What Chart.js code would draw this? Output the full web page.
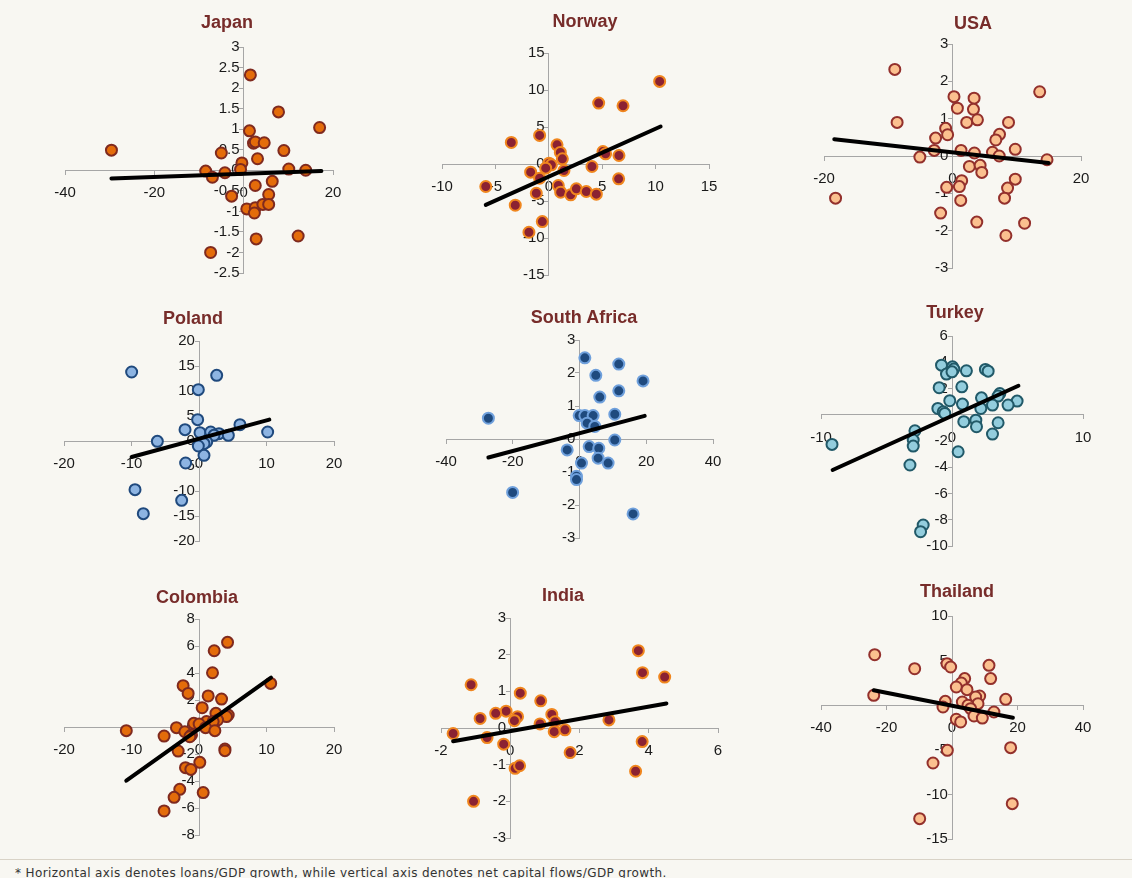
<!DOCTYPE html>
<html>
<head>
<meta charset="utf-8">
<script src="https://cdn.jsdelivr.net/npm/chart.js@4.4.1/dist/chart.umd.min.js"></script>
<style>
  body { margin: 0; background: #f8f7f2; }
  #wrap { position: relative; width: 1132px; height: 878px; overflow: hidden; background: #f8f7f2; }
  #wrap canvas { position: absolute; }
  .ttl { position: absolute; font: bold 18px "Liberation Sans", Arial, sans-serif; color: #772c2a;
         transform: translate(-50%, -50%); white-space: nowrap; }
  #rule { position: absolute; left: 0; top: 859px; width: 1132px; height: 1px; background: #d9d3c7; }
  #note { position: absolute; left: 15px; top: 866px; font: 12px "DejaVu Sans", sans-serif; letter-spacing: 0.4px;
          color: #333; white-space: nowrap; }
</style>
</head>
<body>
<div id="wrap">
  <div id="rule"></div>
  <div id="note">* Horizontal axis denotes loans/GDP growth, while vertical axis denotes net capital flows/GDP growth.</div>
</div>
<script>
// values (loans/GDP growth vs net capital flows/GDP growth)
var japanX = [-29.6, 1.5, 7.8, 17.0, 1.3, 2.2, 2.6, 4.6, 9.0, -5.0, 3.1, -0.4, -0.7, 10.1, 13.9, -8.5, -7.0, -4.2, 6.4, 2.6, 5.6, -2.7, 0.7, 2.6, 2.4, 4.3, 5.6, 2.8, 12.2, -7.4];
var japanY = [0.49, 2.32, 1.42, 1.04, 0.96, 0.66, 0.69, 0.67, 0.48, 0.42, 0.28, 0.18, 0.02, 0.03, 0.0, -0.02, -0.17, -0.06, -0.27, -0.37, -0.59, -0.63, -0.94, -0.91, -1.04, -0.83, -0.83, -1.67, -1.60, -2.0];
var japanTrendX = [-29.6, 17.4];
var japanTrendY = [-0.20, -0.02];

var norwayX = [10.38, 4.67, 6.95, -0.86, -3.51, 0.77, 1.08, 1.27, 5.07, 5.32, 6.57, 0.02, 0.24, -0.29, 4.04, -1.70, 1.42, -0.86, 6.54, -5.9, 0.89, 1.11, -1.17, 2.05, 2.58, 3.51, 4.45, -3.14, -0.61, -1.86];
var norwayY = [11.16, 8.23, 7.87, 3.86, 2.91, 2.59, 1.56, 0.70, 1.69, 1.38, 1.15, 0.11, -0.11, -0.56, -0.34, -1.10, -0.88, -1.92, -2.01, -3.04, -2.91, -3.81, -3.95, -4.17, -3.36, -3.72, -4.08, -5.57, -7.78, -9.22];
var norwayTrendX = [-5.9, 10.47];
var norwayTrendY = [-5.53, 5.07];

var usaX = [-8.98, 13.57, 0.23, 3.36, 0.76, 3.26, -8.62, 2.21, 3.88, 8.72, -1.07, -0.76, -2.63, 7.32, 6.74, -2.84, 1.33, 3.41, 6.22, 7.27, 9.77, -5.08, 14.71, 2.63, 4.30, 4.56, 1.43, 1.07, -0.91, 9.77, 8.57, 8.10, -18.2, 1.28, -1.85, 3.78, 11.22, 8.31];
var usaY = [2.32, 1.72, 1.59, 1.55, 1.28, 1.25, 0.90, 0.90, 0.97, 0.90, 0.74, 0.57, 0.48, 0.58, 0.43, 0.15, 0.15, 0.08, 0.10, 0.0, 0.18, -0.03, -0.10, -0.28, -0.25, -0.44, -0.66, -0.82, -0.84, -0.62, -0.86, -1.13, -1.13, -1.19, -1.53, -1.77, -1.80, -2.13];
var usaTrendX = [-18.4, 14.97];
var usaTrendY = [0.45, -0.19];

var polandX = [-9.98, 2.62, -0.1, -0.2, -2.07, 6.07, 10.17, 0.15, 1.73, 2.96, 2.22, 4.35, -6.17, 1.14, 0.74, -0.1, 0.74, -1.98, -9.48, -2.57, -8.25];
var polandY = [13.8, 13.13, 10.27, 4.27, 2.27, 3.27, 1.80, 1.67, 1.80, 1.47, 1.13, 1.13, -0.07, -0.2, -0.53, -1.0, -2.87, -4.4, -9.73, -11.87, -14.53];
var polandTrendX = [-9.98, 10.42];
var polandTrendY = [-3.2, 4.27];

var safricaX = [1.6, 11.77, 4.89, 19.04, 11.77, 6.08, -27.3, -0.1, 1.6, 4.09, 10.57, 2.29, 4.59, 10.57, -3.69, 2.89, 5.78, 5.58, 0.6, 8.57, -0.9, -0.9, -20.04, 16.05];
var safricaY = [2.46, 2.27, 1.93, 1.76, 1.46, 1.27, 0.63, 0.71, 0.71, 0.71, 0.75, 0.48, 0.38, -0.03, -0.33, -0.23, -0.28, -0.58, -0.73, -0.73, -1.13, -1.23, -1.62, -2.27];
var safricaTrendX = [-27.3, 19.54];
var safricaTrendY = [-0.56, 0.70];

var turkeyX = [-0.8, 0.04, 0.14, -0.42, 0, 1.1, 2.55, 2.76, -0.98, 0.75, -0.17, 2.25, 3.65, 3.52, 4.97, 4.28, 0.8, 3.09, 2.2, -1.08, -0.67, -0.55, 0.9, 1.82, 1.87, 3.52, 3.09, -2.83, -2.96, -2.96, -9.16, 0.47, -3.21, -2.2, -2.4];
var turkeyY = [3.78, 3.65, 3.48, 3.10, 3.27, 3.35, 3.45, 3.32, 2.06, 2.13, 1.07, 1.29, 1.62, 1.42, 1.04, 0.74, 0.81, 0.74, 0.48, 0.48, 0.23, 0.1, -0.53, -0.41, -0.91, -0.61, -1.47, -1.22, -1.93, -2.39, -2.26, -2.82, -3.83, -8.4, -8.91];
var turkeyTrendX = [-9.11, 5.07];
var turkeyTrendY = [-4.21, 2.21];

var colombiaX = [4.23, 2.25, 2.0, -2.35, -1.61, 10.62, 1.36, 3.34, 0.47, 2.5, 4.33, 4.08, 2.75, 1.11, -0.77, 0.02, 2.1, -3.34, 0.97, 2.35, -10.77, -2.1, -1.11, -1.36, -5.17, 3.84, 3.84, -3.09, 0.12, -2.0, -1.21, -2.85, -3.69, 0.62, -5.17];
var colombiaY = [6.27, 5.65, 4.02, 3.06, 2.49, 3.23, 2.30, 2.07, 1.43, 1.01, 0.89, 0.77, 0.52, 0.40, 0.27, 0.22, 0.40, -0.05, -0.05, -0.27, -0.27, -0.35, -0.59, -0.72, -0.67, -1.63, -1.75, -1.78, -2.62, -3.01, -3.14, -4.62, -5.21, -4.86, -6.22];
var colombiaTrendX = [-10.77, 10.67];
var colombiaTrendY = [-3.98, 3.65];

var indiaX = [3.70, 3.82, 4.46, -1.13, 0.29, 0.88, -0.12, -0.42, 1.2, -0.87, 0.21, 0.12, 2.85, 0.86, 1.29, -1.65, 1.27, 1.58, -0.67, -0.19, 3.81, 1.73, 0.14, 0.27, 3.62, -1.06];
var indiaY = [2.11, 1.51, 1.39, 1.18, 0.95, 0.74, 0.46, 0.40, 0.37, 0.26, 0.31, 0.2, 0.22, 0.11, 0.17, -0.15, -0.10, -0.05, -0.26, -0.44, -0.37, -0.67, -1.10, -1.03, -1.18, -2.0];
var indiaTrendX = [-1.65, 4.51];
var indiaTrendY = [-0.36, 0.67];

var thailandX = [-23.6, -1.53, -0.41, -11.4, 11.3, 11.8, 3.87, 2.85, 1.32, 4.58, 8.45, 7.23, 16.4, -23.9, -2.04, 3.16, 7.94, 4.89, -2.75, 5.7, 12.8, 6.72, 9.26, 1.32, 2.65, 17.9, -1.42, -5.8, 18.4, -9.87];
var thailandY = [5.66, 4.66, 4.28, 4.09, 4.47, 2.98, 2.98, 2.49, 2.04, 1.74, 1.03, 0.92, 0.66, 1.11, 0.43, 0.36, 0.17, -0.01, -0.20, -0.39, -0.76, -1.21, -1.44, -1.58, -1.88, -4.76, -5.06, -6.48, -11.04, -12.72];
var thailandTrendX = [-23.9, 18.6];
var thailandTrendY = [1.67, -1.40];

// axis ranges as [min, max, step]
var japanXAxis = [-40, 20, 20],    japanYAxis = [-2.5, 3, 0.5];
var norwayXAxis = [-10, 15, 5],    norwayYAxis = [-15, 15, 5];
var usaXAxis = [-20, 20, 20],      usaYAxis = [-3, 3, 1];
var polandXAxis = [-20, 20, 10],   polandYAxis = [-20, 20, 5];
var safricaXAxis = [-40, 40, 20],  safricaYAxis = [-3, 3, 1];
var turkeyXAxis = [-10, 10, 10],   turkeyYAxis = [-10, 6, 2];
var colombiaXAxis = [-20, 20, 10], colombiaYAxis = [-8, 8, 2];
var indiaXAxis = [-2, 6, 2],       indiaYAxis = [-3, 3, 1];
var thailandXAxis = [-40, 40, 20], thailandYAxis = [-15, 10, 5];

// marker styles
var orangeDot = { fill: '#e46c0a', edge: '#7f2a1f' };
var crimsonDot = { fill: '#8b2232', edge: '#f0861e' };
var peachDot = { fill: '#fbc08f', edge: '#93302c' };
var blueDot = { fill: '#8db4e2', edge: '#1f497d' };
var navyDot = { fill: '#1f4a7e', edge: '#6fa0dc' };
var tealDot = { fill: '#93cddd', edge: '#215968' };

// plot area [left, top, right, bottom] and title centre [x, y] on the page
var panels = [
  { name: 'Japan', x: japanX, y: japanY, tx: japanTrendX, ty: japanTrendY, xa: japanXAxis, ya: japanYAxis, dot: orangeDot, box: [65, 47, 333, 273], title: [227, 22] },
  { name: 'Norway', x: norwayX, y: norwayY, tx: norwayTrendX, ty: norwayTrendY, xa: norwayXAxis, ya: norwayYAxis, dot: crimsonDot, box: [442, 53, 709, 275], title: [585, 21] },
  { name: 'USA', x: usaX, y: usaY, tx: usaTrendX, ty: usaTrendY, xa: usaXAxis, ya: usaYAxis, dot: peachDot, box: [824, 44, 1081, 268], title: [973, 23] },
  { name: 'Poland', x: polandX, y: polandY, tx: polandTrendX, ty: polandTrendY, xa: polandXAxis, ya: polandYAxis, dot: blueDot, box: [64, 341, 334, 541], title: [193, 318] },
  { name: 'South Africa', x: safricaX, y: safricaY, tx: safricaTrendX, ty: safricaTrendY, xa: safricaXAxis, ya: safricaYAxis, dot: navyDot, box: [446, 340, 713, 538], title: [584, 317] },
  { name: 'Turkey', x: turkeyX, y: turkeyY, tx: turkeyTrendX, ty: turkeyTrendY, xa: turkeyXAxis, ya: turkeyYAxis, dot: tealDot, box: [821, 336, 1083, 546], title: [955, 312] },
  { name: 'Colombia', x: colombiaX, y: colombiaY, tx: colombiaTrendX, ty: colombiaTrendY, xa: colombiaXAxis, ya: colombiaYAxis, dot: orangeDot, box: [64, 619, 334, 835], title: [197, 597] },
  { name: 'India', x: indiaX, y: indiaY, tx: indiaTrendX, ty: indiaTrendY, xa: indiaXAxis, ya: indiaYAxis, dot: crimsonDot, box: [441, 618, 718, 838], title: [563, 595] },
  { name: 'Thailand', x: thailandX, y: thailandY, tx: thailandTrendX, ty: thailandTrendY, xa: thailandXAxis, ya: thailandYAxis, dot: peachDot, box: [821, 616, 1083, 839], title: [957, 591] }
];

var margin = 30;
var axisGrey = '#a6a6a6';
var tickFont = { family: '"Liberation Sans", Arial, sans-serif', size: 15 };
var wrap = document.getElementById('wrap');

function toPoints(xs, ys) {
  var pts = [];
  for (var i = 0; i < xs.length; i++) pts.push({ x: xs[i], y: ys[i] });
  return pts;
}

// plain numbers like Excel: 3, 2.5, -0.5 (no trailing zeros)
function plain(v) { return String(Math.round(v * 100) / 100); }

panels.forEach(function (p) {
  var b = p.box;
  var cv = document.createElement('canvas');
  var w = b[2] - b[0] + 2 * margin, h = b[3] - b[1] + 2 * margin;
  cv.width = w; cv.height = h;
  cv.style.left = (b[0] - margin) + 'px';
  cv.style.top = (b[1] - margin) + 'px';
  cv.style.width = w + 'px'; cv.style.height = h + 'px';
  wrap.appendChild(cv);

  var t = document.createElement('div');
  t.className = 'ttl';
  t.textContent = p.name;
  t.style.left = p.title[0] + 'px';
  t.style.top = p.title[1] + 'px';
  wrap.appendChild(t);

  new Chart(cv.getContext('2d'), {
    type: 'scatter',
    data: {
      datasets: [{
        type: 'line',
        data: toPoints(p.tx, p.ty),
        borderColor: '#000',
        borderWidth: 4,
        borderCapStyle: 'round',
        pointRadius: 0,
        showLine: true,
        order: 0
      }, {
        data: toPoints(p.x, p.y),
        backgroundColor: p.dot.fill,
        borderColor: p.dot.edge,
        borderWidth: 2,
        pointRadius: 5.5,
        order: 1
      }]
    },
    options: {
      responsive: false,
      animation: false,
      layout: { padding: margin },
      plugins: { legend: { display: false }, tooltip: { enabled: false } },
      scales: {
        x: {
          type: 'linear',
          position: { y: 0 },
          min: p.xa[0], max: p.xa[1],
          ticks: { stepSize: p.xa[2], font: tickFont, color: '#1a1a1a', padding: 10, maxRotation: 0, autoSkip: false,
                   callback: function (v) { return plain(v); } },
          grid: { drawOnChartArea: false, tickLength: 4, color: axisGrey },
          border: { color: axisGrey },
          afterFit: function (s) { s.height = 0; }
        },
        y: {
          type: 'linear',
          position: { x: 0 },
          min: p.ya[0], max: p.ya[1],
          // labels sit right against the axis here, the trailing space gives the small gap
          ticks: { stepSize: p.ya[2], font: tickFont, color: '#1a1a1a', autoSkip: false,
                   callback: function (v) { return plain(v) + ' '; } },
          grid: { drawOnChartArea: false, tickLength: 4, color: axisGrey },
          border: { color: axisGrey },
          afterFit: function (s) { s.width = 0; }
        }
      }
    }
  });
});
</script>
</body>
</html>
